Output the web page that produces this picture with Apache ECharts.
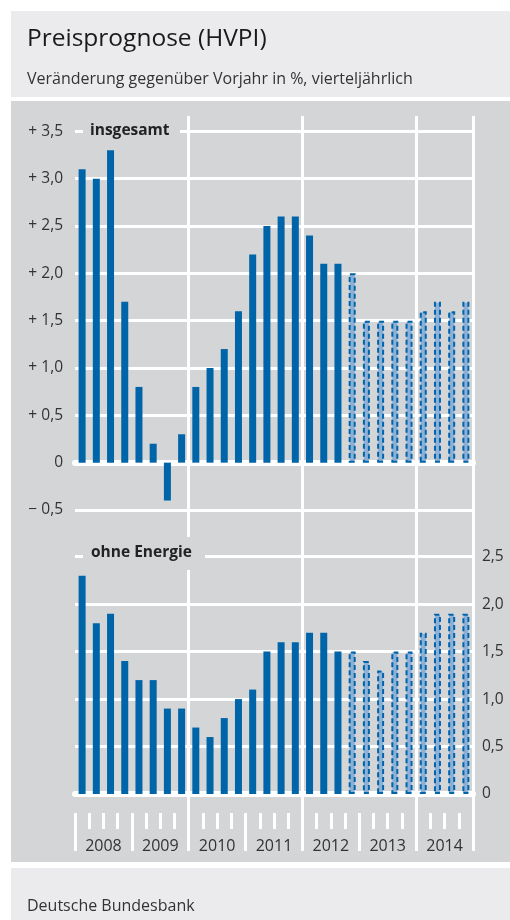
<!DOCTYPE html>
<html>
<head>
<meta charset="utf-8">
<script src="https://cdn.jsdelivr.net/npm/echarts@6/dist/echarts.min.js"></script>
<style>
html,body{margin:0;padding:0;background:#fff;}
#c{width:510px;height:920px;}
</style>
</head>
<body>
<div id="c"></div>
<script>
// ---- data ----
var years = ['2008', '2009', '2010', '2011', '2012', '2013', '2014'];
var quarters = ['2008Q1','2008Q2','2008Q3','2008Q4','2009Q1','2009Q2','2009Q3','2009Q4',
                '2010Q1','2010Q2','2010Q3','2010Q4','2011Q1','2011Q2','2011Q3','2011Q4',
                '2012Q1','2012Q2','2012Q3','2012Q4','2013Q1','2013Q2','2013Q3','2013Q4',
                '2014Q1','2014Q2','2014Q3','2014Q4'];
var insgesamt = [3.1, 3.0, 3.3, 1.7, 0.8, 0.2, -0.4, 0.3, 0.8, 1.0, 1.2, 1.6, 2.2, 2.5, 2.6, 2.6,
                 2.4, 2.1, 2.1, 2.0, 1.5, 1.5, 1.5, 1.5, 1.6, 1.7, 1.6, 1.7];
var ohneEnergie = [2.3, 1.8, 1.9, 1.4, 1.2, 1.2, 0.9, 0.9, 0.7, 0.6, 0.8, 1.0, 1.1, 1.5, 1.6, 1.6,
                   1.7, 1.7, 1.5, 1.5, 1.4, 1.3, 1.5, 1.5, 1.7, 1.9, 1.9, 1.9];
var firstForecastIndex = 19; // 2012Q4 onward = Prognose
var topTicks = {min: -0.5, max: 3.5, step: 0.5};
var bottomTicks = {min: 0, max: 2.5, step: 0.5};

// ---- styles ----
var FONT = '"Open Sans", "Noto Sans", sans-serif';
var BLUE = '#0064a8';
var PANEL = '#d4d5d7';
var LIGHT = '#ebebed';
var TXT = '#333333';

function buildData(arr) {
  return arr.map(function (v, i) {
    if (i < firstForecastIndex) return {value: v};
    return {value: v, itemStyle: {color: '#8cb0d8', borderColor: BLUE, borderWidth: 2, borderType: [5, 3]}};
  });
}
function fmt(v) {
  if (Math.abs(v) < 1e-9) return '0';
  var s = Math.abs(v).toFixed(1).replace('.', ',');
  return (v > 0 ? '+ ' : '\u2212 ') + s;
}

var chart = echarts.init(document.getElementById('c'), null, {renderer: 'canvas'});
var gridL = 75, gridR = 37;
var option = {
  animation: false,
  backgroundColor: '#ffffff',
  textStyle: {fontFamily: FONT},
  grid: [
    {left: gridL, right: gridR, top: 131.3, height: 378.7},
    {left: gridL, right: gridR, top: 556.7, height: 237.3},
    {left: gridL, right: gridR, top: 116, height: 735}
  ],
  xAxis: [
    {gridIndex: 0, type: 'category', data: quarters, position: 'bottom',
     axisLine: {onZero: true, lineStyle: {color: '#fff', width: 6}},
     axisTick: {show: false}, axisLabel: {show: false}, splitLine: {show: false}},
    {gridIndex: 1, type: 'category', data: quarters, position: 'bottom',
     axisLine: {onZero: true, lineStyle: {color: '#fff', width: 6}},
     axisTick: {show: false}, axisLabel: {show: false}, splitLine: {show: false}},
    {gridIndex: 1, type: 'category', data: quarters, position: 'bottom', offset: 19,
     axisLine: {show: false, onZero: false},
     axisTick: {show: true, interval: 0, length: 16, lineStyle: {color: '#fff', width: 3}},
     axisLabel: {show: false}, splitLine: {show: false}},
    {gridIndex: 1, type: 'category', data: years, position: 'bottom', offset: 19,
     axisLine: {show: false, onZero: false},
     axisTick: {show: true, interval: 0, length: 38, lineStyle: {color: '#fff', width: 3}},
     axisLabel: {show: true, interval: 0, margin: 25, fontSize: 16, color: TXT, fontFamily: FONT},
     splitLine: {show: false}},
    {gridIndex: 2, type: 'category', data: quarters, position: 'bottom',
     axisLine: {show: false}, axisTick: {show: false}, axisLabel: {show: false},
     splitLine: {show: true, interval: function (i) { return i > 0 && i % 8 === 0; },
                 lineStyle: {color: '#fff', width: 3}}}
  ],
  yAxis: [
    {gridIndex: 0, type: 'value', min: topTicks.min, max: topTicks.max, interval: topTicks.step,
     position: 'left', axisLine: {show: false}, axisTick: {show: false},
     axisLabel: {formatter: fmt, fontSize: 15.5, color: TXT, margin: 12, fontFamily: FONT},
     splitLine: {lineStyle: {color: '#fff', width: 3}}},
    {gridIndex: 1, type: 'value', min: bottomTicks.min, max: bottomTicks.max, interval: bottomTicks.step,
     position: 'right', axisLine: {show: false}, axisTick: {show: false},
     axisLabel: {formatter: function (v) { return Math.abs(v) < 1e-9 ? '0' : v.toFixed(1).replace('.', ','); },
                 fontSize: 15.5, color: TXT, margin: 9, fontFamily: FONT},
     splitLine: {lineStyle: {color: '#fff', width: 3}}},
    {gridIndex: 2, type: 'value', min: 0, max: 1, show: false}
  ],
  series: [
    {type: 'bar', name: 'insgesamt', xAxisIndex: 0, yAxisIndex: 0, barWidth: 7,
     itemStyle: {color: BLUE}, data: buildData(insgesamt), z: 3},
    {type: 'bar', name: 'ohne Energie', xAxisIndex: 1, yAxisIndex: 1, barWidth: 7,
     itemStyle: {color: BLUE}, data: buildData(ohneEnergie), z: 3}
  ],
  graphic: [
    {type: 'rect', z: -10, silent: true, shape: {x: 11, y: 11, width: 499, height: 86}, style: {fill: LIGHT}},
    {type: 'rect', z: -10, silent: true, shape: {x: 11, y: 101, width: 499, height: 761}, style: {fill: PANEL}},
    {type: 'rect', z: -10, silent: true, shape: {x: 11, y: 868, width: 499, height: 52}, style: {fill: LIGHT}},
    {type: 'text', z: 100, left: 27, top: 27, style: {text: 'Preisprognose (HVPI)', font: '24.5px ' + FONT, fill: '#1a1a1a'}},
    {type: 'text', z: 100, left: 27, top: 71, style: {text: 'Veränderung gegenüber Vorjahr in %, vierteljährlich', font: '16px ' + FONT, fill: TXT}},
    {type: 'text', z: 100, left: 27, top: 898, style: {text: 'Deutsche Bundesbank', font: '16px ' + FONT, fill: TXT}},
    {type: 'rect', z: 100, silent: true, shape: {x: 83, y: 120, width: 97, height: 22}, style: {fill: PANEL}},
    {type: 'text', z: 101, left: 90, top: 123, style: {text: 'insgesamt', font: 'bold 15.5px ' + FONT, fill: '#222'}},
    {type: 'rect', z: 100, silent: true, shape: {x: 83, y: 537, width: 122, height: 33}, style: {fill: PANEL}},
    {type: 'text', z: 101, left: 91, top: 545, style: {text: 'ohne Energie', font: 'bold 15.5px ' + FONT, fill: '#222'}}
  ]
};
chart.setOption(option);
</script>
</body>
</html>
